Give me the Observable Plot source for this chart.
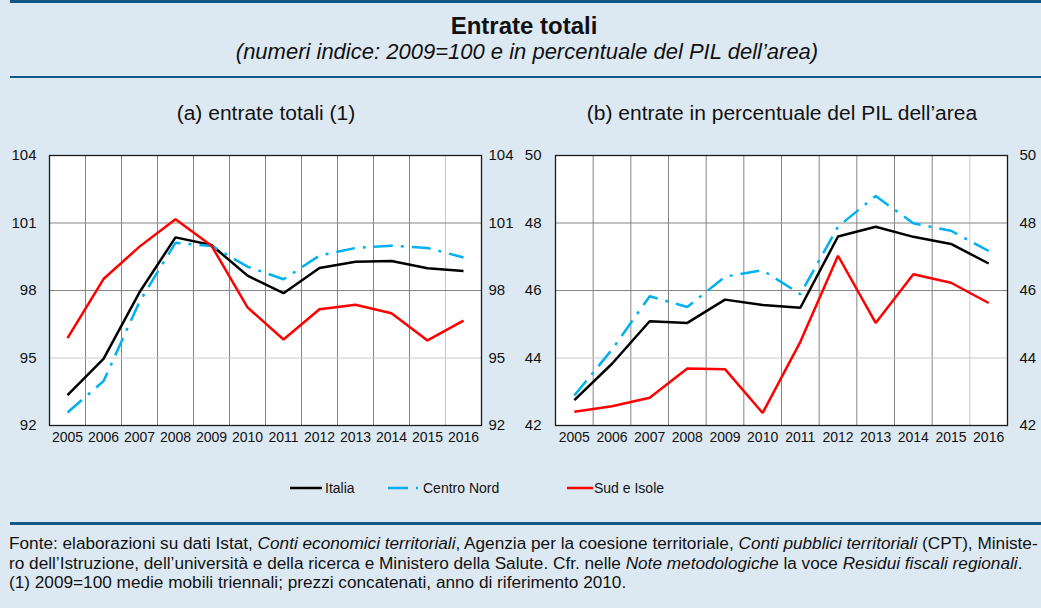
<!DOCTYPE html>
<html>
<head>
<meta charset="utf-8">
<script src="https://cdn.jsdelivr.net/npm/d3@7"></script>
<script src="https://cdn.jsdelivr.net/npm/@observablehq/plot@0.6"></script>
<style>
  html, body { margin: 0; padding: 0; }
  body { width: 1041px; height: 608px; background: #dde9f2; position: relative; overflow: hidden;
         font-family: "Liberation Sans", Arial, Helvetica, sans-serif; color: #111; }
  .abs { position: absolute; white-space: nowrap; }
  .rule { position: absolute; background: #14588a; }
</style>
</head>
<body>
<div id="root"></div>
<script>
// ---- data ----
const years = [2005, 2006, 2007, 2008, 2009, 2010, 2011, 2012, 2013, 2014, 2015, 2016];
const seriesNames = ["Italia", "Centro Nord", "Sud e Isole"];
const seriesColors = ["#000000", "#00b0f0", "#ff0000"];

// panel (a): entrate totali, 2009=100
const italiaA      = [93.35, 94.96, 97.92, 100.36, 100.02, 98.66, 97.88, 99.00, 99.28, 99.31, 98.99, 98.87];
const centroNordA  = [92.58, 93.97, 97.50, 100.12, 99.98, 99.06, 98.50, 99.55, 99.89, 99.99, 99.89, 99.47];
const sudA         = [95.88, 98.51, 99.95, 101.17, 99.99, 97.25, 95.82, 97.17, 97.37, 96.99, 95.78, 96.66];

// panel (b): entrate in % del PIL dell'area
const italiaB      = [42.75, 43.83, 45.09, 45.04, 45.73, 45.57, 45.49, 47.60, 47.89, 47.59, 47.38, 46.80];
const centroNordB  = [42.89, 44.25, 45.83, 45.51, 46.41, 46.60, 45.89, 47.89, 48.80, 47.99, 47.77, 47.17];
const sudB         = [42.41, 42.57, 42.82, 43.69, 43.67, 42.37, 44.48, 47.03, 45.04, 46.48, 46.23, 45.63];

const ticksA = [92, 95, 98, 101, 104];
const ticksB = [42, 44, 46, 48, 50];

const titleText = "Entrate totali";
const subtitleText = "(numeri indice: 2009=100 e in percentuale del PIL dell\u2019area)";
const panelTitleA = "(a) entrate totali (1)";
const panelTitleB = "(b) entrate in percentuale del PIL dell\u2019area";
const footerLines = [
  "Fonte: elaborazioni su dati Istat, <i>Conti economici territoriali</i>, Agenzia per la coesione territoriale, <i>Conti pubblici territoriali</i> (CPT), Ministe-",
  "ro dell\u2019Istruzione, dell\u2019universit\u00e0 e della ricerca e Ministero della Salute. Cfr. nelle <i>Note metodologiche</i> la voce <i>Residui fiscali regionali</i>.",
  "(1) 2009=100 medie mobili triennali; prezzi concatenati, anno di riferimento 2010."
];

// ---- helpers ----
const FONT = '"Liberation Sans", Arial, Helvetica, sans-serif';

function addRule(x, y, w, h) {
  const d = document.createElement("div");
  d.className = "rule";
  Object.assign(d.style, {left: x + "px", top: y + "px", width: w + "px", height: h + "px"});
  document.body.appendChild(d);
}
function addText(html, {x, baseline, size, weight = "normal", style = "normal", anchor = "middle", scaleX = 1}) {
  const d = document.createElement("div");
  d.className = "abs";
  d.innerHTML = html;
  const top = baseline - 0.8465 * size;
  Object.assign(d.style, {
    top: top + "px", fontSize: size + "px", lineHeight: size + "px",
    fontWeight: weight, fontStyle: style
  });
  if (anchor === "middle") {
    Object.assign(d.style, {left: (x - 600) + "px", width: "1200px", textAlign: "center"});
  } else {
    d.style.left = x + "px";
  }
  if (scaleX !== 1) {
    d.style.transform = `scaleX(${scaleX})`;
    d.style.transformOrigin = anchor === "middle" ? "center" : "left";
  }
  document.body.appendChild(d);
}

function rows(values) { return years.map((year, i) => ({year, value: values[i]})); }

const gridLight = "#c9c9c9";
const gridDark = "#858585";
const boundaries = years.slice(1).map(y => y - 0.5);

function panel({seriesValues, ticks, domain, lightY, width, left, marginLeft, marginRight, padL, padR}) {
  const innerY = ticks.slice(1, -1);
  const lineMarks = seriesValues.map((vals, i) =>
    Plot.line(rows(vals), {
      x: "year", y: "value", stroke: seriesColors[i], strokeWidth: 2.5,
      strokeDasharray: seriesNames[i] === "Centro Nord" ? "19,8,3,8" : null,
      strokeLinejoin: "miter", strokeLinecap: "butt"
    })
  );
  const chart = Plot.plot({
    width, height: 310,
    marginLeft, marginRight, marginTop: 15, marginBottom: 25,
    style: {background: "transparent", fontFamily: FONT, color: "#111", overflow: "visible"},
    x: {domain: [years[0] - 0.5, years[years.length - 1] + 0.5], label: null},
    y: {domain, label: null},
    marks: [
      Plot.frame({fill: "white", stroke: null}),
      Plot.ruleX(boundaries, {stroke: d => d === boundaries[boundaries.length - 1] ? gridLight : gridDark, strokeWidth: 1}),
      Plot.ruleY(innerY, {stroke: d => d === lightY ? gridLight : gridDark, strokeWidth: 1}),
      ...lineMarks,
      Plot.frame({stroke: "#1a1a1a", strokeWidth: 1.3}),
      Plot.axisY(ticks, {anchor: "left", tickSize: 0, tickPadding: padL, fontSize: 15, label: null}),
      Plot.axisY(ticks, {anchor: "right", tickSize: 0, tickPadding: padR, fontSize: 15, label: null}),
      Plot.axisX(years, {anchor: "bottom", tickSize: 0, tickPadding: 7, fontSize: 14, tickFormat: d => String(d), label: null})
    ]
  });
  const holder = document.createElement("div");
  holder.className = "abs";
  Object.assign(holder.style, {left: left + "px", top: "140px"});
  holder.appendChild(chart);
  document.body.appendChild(holder);
}

// ---- header ----
addRule(10, 0, 1031, 3);
addText(titleText, {x: 524, baseline: 34, size: 24, weight: "bold"});
addText(subtitleText, {x: 527, baseline: 60, size: 22, style: "italic"});
addRule(10, 76, 1031, 2);
addText(panelTitleA, {x: 266, baseline: 120, size: 20, scaleX: 1.05});
addText(panelTitleB, {x: 782, baseline: 120, size: 20, scaleX: 1.05});

// ---- panels ----
panel({seriesValues: [italiaA, centroNordA, sudA], ticks: ticksA, domain: [92, 104], lightY: 95,
       width: 520, left: 0, marginLeft: 49, marginRight: 39, padL: 13, padR: 7});
panel({seriesValues: [italiaB, centroNordB, sudB], ticks: ticksB, domain: [42, 50], lightY: 44,
       width: 541, left: 500, marginLeft: 55, marginRight: 34, padL: 14, padR: 12});

// ---- legend ----
const legendItems = [
  {x0: 290, x1: 322, tx: 325},
  {x0: 388, x1: 419, tx: 423},
  {x0: 567, x1: 593, tx: 594}
];
legendItems.forEach((it, i) => {
  const ns = "http://www.w3.org/2000/svg";
  const svg = document.createElementNS(ns, "svg");
  svg.setAttribute("width", it.x1 - it.x0);
  svg.setAttribute("height", 8);
  svg.style.position = "absolute";
  svg.style.left = it.x0 + "px";
  svg.style.top = "484px";
  const ln = document.createElementNS(ns, "line");
  ln.setAttribute("x1", 0); ln.setAttribute("x2", it.x1 - it.x0);
  ln.setAttribute("y1", 4); ln.setAttribute("y2", 4);
  ln.setAttribute("stroke", seriesColors[i]);
  ln.setAttribute("stroke-width", 2.5);
  if (seriesNames[i] === "Centro Nord") ln.setAttribute("stroke-dasharray", "20,8,2,8");
  svg.appendChild(ln);
  document.body.appendChild(svg);
  addText(seriesNames[i], {x: it.tx, baseline: 493, size: 14, anchor: "start"});
});

// ---- footer ----
addRule(10, 522, 1031, 3);
footerLines.forEach((line, i) => {
  addText(line, {x: 9, baseline: 550 + i * 19.5, size: 16, anchor: "start", scaleX: 1.075});
});
</script>
</body>
</html>
